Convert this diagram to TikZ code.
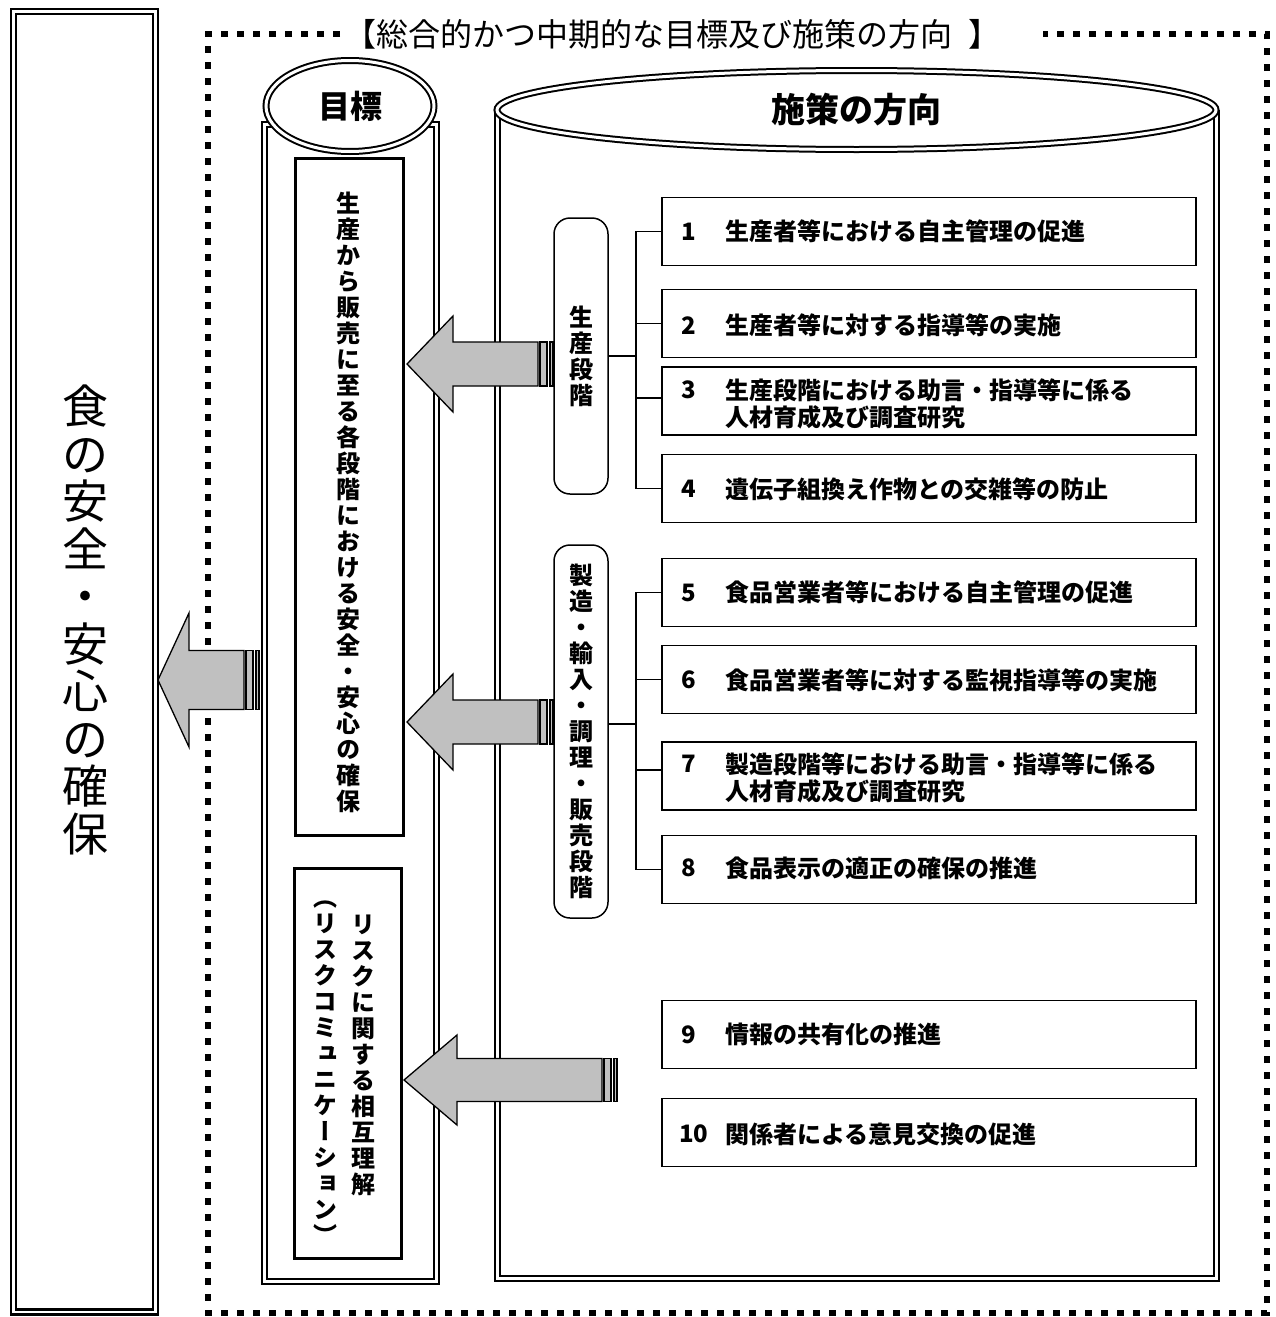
\documentclass[tikz,border=0pt]{standalone}
\usepackage{fontspec}
\usepackage{graphicx}
\usetikzlibrary{shapes.geometric}
\newfontfamily\jp{Noto Sans CJK JP}
\newfontfamily\jpv[RawFeature=+vert]{Noto Sans CJK JP}
\definecolor{argray}{HTML}{C0C0C0}
\newcommand\garrow[6]{%
  \draw[arr] (#1,#2) -- (#3,#2-#4) -- (#3,#2-#5) -- (#6,#2-#5) -- (#6,#2+#5) -- (#3,#2+#5) -- (#3,#2+#4) -- cycle;
  \draw[arr] (#6+2,#2-#5) rectangle (#6+9,#2+#5);
  \draw[arr] (#6+12,#2-#5) rectangle (#6+15,#2+#5);}
\begin{document}
\begin{tikzpicture}[x=1pt,y=-1pt,
  dbl/.style={draw=black,line width=2pt,double=white,double distance=3pt},
  itembox/.style={draw,line width=1.8pt,minimum width=534pt,minimum height=68pt,inner sep=0pt},
  stagebox/.style={draw,line width=1.5pt,rounded corners=16pt,minimum width=54pt,inner sep=0pt},
  goalbox/.style={draw,line width=3pt,inner sep=0pt},
  conn/.style={line width=1.5pt},
  arr/.style={draw=black,line width=1.3pt,fill=argray,line join=miter},
  num/.style={font=\jp\bfseries\fontsize{24}{27}\selectfont,anchor=west,inner sep=0pt},
  itxt/.style={font=\jp\bfseries\fontsize{24}{27}\selectfont,anchor=west,inner sep=0pt,align=left},
  vtxt/.style={font=\jpv\bfseries\fontsize{24}{26}\selectfont,align=center,inner sep=0pt},
  frame/.style={line width=6pt,dash pattern=on 7pt off 9pt}
]
\useasboundingbox (0,0) rectangle (1275,1317);

% dotted frame
\draw[frame] (340,34) -- (208,34) -- (208,1313) -- (1267,1313) -- (1267,34) -- (1043,34);
\node[font=\jp\fontsize{32}{33}\selectfont,anchor=west,inner sep=0pt] (title) at (344,34) {【総合的かつ中期的な目標及び施策の方向\hspace{16pt}】};

% left box
\node[draw=black,line width=2.3pt,double=white,double distance=2.5pt,fill=white,
      minimum width=142pt,minimum height=1300.5pt,inner sep=0pt] (leftbox) at (84.5,661.75) {};
\node[font=\jp\fontsize{46}{47.5}\selectfont,align=center,inner sep=0pt] (lefttxt) at (85,620)
  {食\\の\\安\\全\\・\\安\\心\\の\\確\\保};

% goal column
\node[dbl,minimum width=172pt,minimum height=1156.5pt,inner sep=0pt] (goalcol) at (350,702.75) {};
\node[dbl,ellipse,fill=white,minimum width=168pt,minimum height=91pt,inner sep=0pt,
      font=\jp\bfseries\fontsize{32}{34}\selectfont] (goalhd) at (350,106) {目標};

\node[goalbox,minimum width=108pt,minimum height=677pt] (goal1) at (349,496.5) {};
\node[vtxt] (goal1txt) at (348,502)
  {生\\産\\か\\ら\\販\\売\\に\\至\\る\\各\\段\\階\\に\\お\\け\\る\\安\\全\\・\\安\\心\\の\\確\\保};
\node[goalbox,minimum width=107pt,minimum height=390pt] (goal2) at (347.5,1063) {};
\node[vtxt] (goal2a) at (363,1055) {リ\\ス\\ク\\に\\関\\す\\る\\相\\互\\理\\解};
\node[vtxt] (goal2b) at (325,1073) {（\\リ\\ス\\ク\\コ\\ミ\\ュ\\ニ\\ケ\\ー\\シ\\ョ\\ン\\）};

% policy cylinder
\draw[dbl] (497,110) -- (497,1278) -- (1216,1278) -- (1216,110);
\node[dbl,ellipse,fill=white,minimum width=719pt,minimum height=79pt,inner sep=0pt,
      font=\jp\bfseries\fontsize{34}{36}\selectfont] (cylhd) at (856.5,110) {施策の方向};

% stage boxes
\node[stagebox,vtxt,minimum height=276pt] (st1) at (581,356) {生\\産\\段\\階};
\node[stagebox,vtxt,minimum height=373pt] (st2) at (581,731.5) {製\\造\\・\\輸\\入\\・\\調\\理\\・\\販\\売\\段\\階};

% item boxes
\node[itembox] (b1) at (929,231.5) {};
\node[itembox] (b2) at (929,323.5) {};
\node[itembox] (b3) at (929,401) {};
\node[itembox] (b4) at (929,488.5) {};
\node[itembox] (b5) at (929,592.5) {};
\node[itembox] (b6) at (929,679.5) {};
\node[itembox] (b7) at (929,776) {};
\node[itembox] (b8) at (929,869.5) {};
\node[itembox] (b9) at (929,1034.5) {};
\node[itembox] (b10) at (929,1132.5) {};

\node[num] (n1) at (681,231.5) {1};
\node[itxt] (t1) at (725,231.5) {生産者等における自主管理の促進};
\node[num] (n2) at (681,325.5) {2};
\node[itxt] (t2) at (725,325.5) {生産者等に対する指導等の実施};
\node[num] (n3) at (681,390) {3};
\node[itxt] (t3) at (725,403.5) {生産段階における助言・指導等に係る\\人材育成及び調査研究};
\node[num] (n4) at (681,489) {4};
\node[itxt] (t4) at (725,489) {遺伝子組換え作物との交雑等の防止};
\node[num] (n5) at (681,592.5) {5};
\node[itxt] (t5) at (725,592.5) {食品営業者等における自主管理の促進};
\node[num] (n6) at (681,680) {6};
\node[itxt] (t6) at (725,680) {食品営業者等に対する監視指導等の実施};
\node[num] (n7) at (681,764) {7};
\node[itxt] (t7) at (725,777.5) {製造段階等における助言・指導等に係る\\人材育成及び調査研究};
\node[num] (n8) at (681,868) {8};
\node[itxt] (t8) at (725,868) {食品表示の適正の確保の推進};
\node[num] (n9) at (681,1034.5) {9};
\node[itxt] (t9) at (725,1034.5) {情報の共有化の推進};
\node[num] (n10) at (679,1134) {10};
\node[itxt] (t10) at (725,1134) {関係者による意見交換の促進};

% connectors
\coordinate (tr1) at (636,356);
\draw[conn] (st1.east) -- (tr1);
\draw[conn] (b1.west) -| (tr1);
\draw[conn] (b2.west) -| (tr1);
\draw[conn] ([yshift=3pt]b3.west) -| (tr1);
\draw[conn] (b4.west) -| (tr1);
\coordinate (tr2) at (636,724);
\draw[conn] (st2.east |- tr2) -- (tr2);
\draw[conn] (b5.west) -| (tr2);
\draw[conn] (b6.west) -| (tr2);
\draw[conn] ([yshift=6pt]b7.west) -| (tr2);
\draw[conn] (b8.west) -| (tr2);

% grey arrows
\garrow{407}{364}{453}{48}{22}{538}
\garrow{407}{722}{453}{48}{22}{538}
\garrow{404}{1080}{457}{45}{21.5}{602}
\garrow{158}{680}{189}{67}{29.5}{244}
\end{tikzpicture}
\end{document}
